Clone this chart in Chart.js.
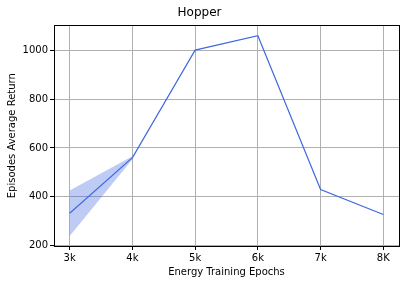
<!DOCTYPE html>
<html><head><meta charset="utf-8">
<script src="https://cdn.jsdelivr.net/npm/chart.js@4"></script>
<style>html,body{margin:0;padding:0;background:#fff;}#wrap{width:407px;height:286px;}</style>
</head><body><div id="wrap"><canvas id="c" width="407" height="286"></canvas></div>
<script>
const epochs = [3, 4, 5, 6, 7, 8];
const tickLabels = ['3k', '4k', '5k', '6k', '7k', '8K'];
const meanReturn = [333, 560, 1000, 1059, 430, 328];
const upperReturn = [426, 566, 1000, 1059, 430, 328];
const lowerReturn = [240, 554, 1000, 1059, 430, 328];

const pts = arr => arr.map((v, i) => ({x: epochs[i], y: v}));
const FONT = 'DejaVu Sans';

const frame = {
  id: 'frame',
  afterDraw(chart) {
    const {ctx, chartArea: a} = chart;
    ctx.save();
    ctx.strokeStyle = '#000';
    ctx.lineWidth = 1;
    ctx.strokeRect(Math.round(a.left) + 0.5, Math.round(a.top) + 0.5, Math.round(a.right - a.left), Math.round(a.bottom - a.top));
    ctx.restore();
  }
};

new Chart(document.getElementById('c'), {
  type: 'line',
  data: {
    datasets: [
      {data: pts(upperReturn), borderWidth: 0, pointRadius: 0, fill: '+1', backgroundColor: 'rgba(65,105,225,0.35)', borderColor: 'rgba(0,0,0,0)'},
      {data: pts(lowerReturn), borderWidth: 0, pointRadius: 0, fill: false, borderColor: 'rgba(0,0,0,0)'},
      {data: pts(meanReturn), borderWidth: 1.2, pointRadius: 0, fill: false, borderColor: '#4169E1'}
    ]
  },
  options: {
    responsive: false,
    animation: false,
    layout: {padding: {left: 0, right: 8, top: 0, bottom: 0}},
    plugins: {
      legend: {display: false},
      tooltip: {enabled: false},
      title: {display: true, text: 'Hopper', color: '#000', font: {family: FONT, size: 12, weight: 'normal'}, padding: {top: 6, bottom: 5}}
    },
    scales: {
      x: {
        type: 'linear', min: 2.75, max: 8.25,
        afterFit(s) { s.height = 40; },
        border: {color: '#000', width: 1},
        grid: {color: '#b0b0b0', lineWidth: 1, tickColor: '#000', tickLength: 4},
        ticks: {stepSize: 1, includeBounds: false, color: '#000', font: {family: FONT, size: 10}, padding: 2, maxRotation: 0,
          callback: v => { const i = epochs.indexOf(v); return i >= 0 ? tickLabels[i] : ''; }},
        title: {display: true, text: 'Energy Training Epochs', color: '#000', font: {family: FONT, size: 10}, padding: {top: 0, bottom: 8}}
      },
      y: {
        min: 199, max: 1101,
        afterFit(s) { s.width = 54; },
        border: {color: '#000', width: 1},
        grid: {color: '#b0b0b0', lineWidth: 1, tickColor: '#000', tickLength: 4},
        ticks: {stepSize: 200, includeBounds: false, color: '#000', font: {family: FONT, size: 10}, padding: 2,
          callback: v => String(v)},
        title: {display: true, text: 'Episodes Average Return', color: '#000', font: {family: FONT, size: 10}, padding: {top: 6, bottom: 0}}
      }
    }
  },
  plugins: [frame]
});
</script></body></html>
